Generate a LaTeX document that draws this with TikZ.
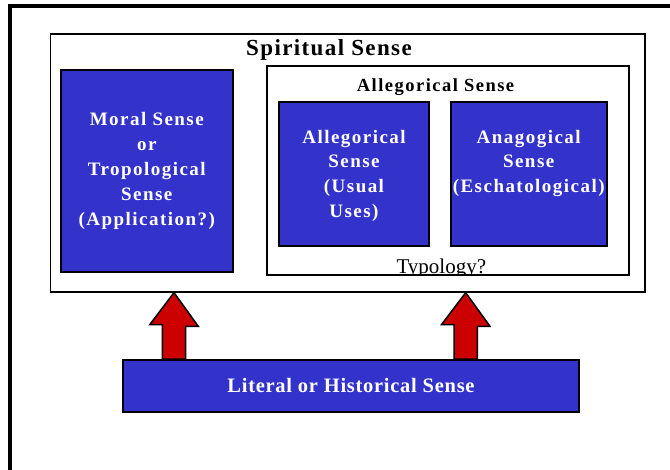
\documentclass[tikz,border=0pt]{standalone}
\usepackage{fontspec}
\setmainfont{Liberation Serif}
\usetikzlibrary{positioning}
\definecolor{sense_blue}{RGB}{51,51,204}
\definecolor{arrow_red}{RGB}{204,0,0}
\tikzset{
        boxnode/.style={align=center,inner sep=0pt},
        % Blue sense boxes
        node_sense/.style={boxnode, rectangle, draw=black, line width=2pt, fill=sense_blue, text=white, font=\bfseries\fontsize{19}{25}\selectfont\addfontfeature{LetterSpace=7.7}},
        % Text set inside a blue box
        node_sense_text/.style={boxnode, text=white, font=\bfseries\fontsize{19}{24.8}\selectfont\addfontfeature{LetterSpace=7.7}},
        % White frame boxes
        node_frame/.style={boxnode, rectangle, draw=black, line width=1.8pt, fill=white},
        % Frame titles
        node_title/.style={boxnode, anchor=base, font=\bfseries\fontsize{18.5}{22}\selectfont\addfontfeature{LetterSpace=8}},
        % Block arrows
        block_arrow/.style={draw=black, line width=1.5pt, fill=arrow_red, line join=miter}
}
\begin{document}
\begin{tikzpicture}[x=1pt, y=-1pt]
    \useasboundingbox (0,0) rectangle (670,470);
    \clip (0,0) rectangle (670,470);
    \draw[line width=3.5pt] (10,6) rectangle (700,500);
    % Spiritual frame
    \node[node_frame, minimum width=594.8pt, minimum height=257.7pt] (spiritual) at (347.9,162.9) {};
    \node[node_title, font=\bfseries\fontsize{23}{26}\selectfont\addfontfeature{LetterSpace=6}] (spiritual_title) at (329,56) {Spiritual Sense};
    \node[node_sense, minimum width=171.7pt, minimum height=202pt] (moral) at (146.8,171) {Moral Sense\\or\\Tropological\\Sense\\(Application?)};
    % Allegorical frame
    \node[node_frame, minimum width=362pt, minimum height=209.3pt] (allegorical) at (447.7,170.7) {};
    \node[node_title] (allegorical_title) at (435.5,92) {Allegorical Sense};
    \node[node_sense, minimum width=150pt, minimum height=143.4pt] (usual) at (354,174) {};
    \node[node_sense, minimum width=156pt, minimum height=143.4pt] (anagogical) at (528.7,174) {};
    \node[node_sense_text, below=28.5pt of usual.north] (usual_text) {Allegorical\\Sense\\(Usual\\Uses)};
    \node[node_sense_text, below=28.5pt of anagogical.north] (anagogical_text) {Anagogical\\Sense\\(Eschatological)};
    \begin{scope}
        \clip (allegorical.north west) rectangle ([yshift=1pt]allegorical.south east);
        \node[anchor=base, inner sep=0pt, font=\fontsize{21}{25}\selectfont] (typology) at (441.3,274) {Typology?};
    \end{scope}
    % Literal base
    \node[node_sense, minimum width=456.6pt, minimum height=51.7pt, font=\bfseries\fontsize{20.5}{24}\selectfont\addfontfeature{LetterSpace=3.5}] (literal) at (351,385.9) {Literal or Historical Sense};
    \coordinate (base_l) at ([xshift=52.3pt]literal.north west);
    \coordinate (base_r) at ([xshift=-114.6pt]literal.north east);
    \coordinate (tip_l) at (base_l |- spiritual.south);
    \coordinate (tip_r) at (base_r |- spiritual.south);
    \draw[block_arrow] (tip_l) -- ++(24.3,33.7) -- ++(-12.6,0) -- ([xshift=11.7pt]base_l) -- ([xshift=-11.7pt]base_l) -- ++(0,-34.3) -- ++(-12.6,0) -- cycle;
    \draw[block_arrow] (tip_r) -- ++(24.3,33.7) -- ++(-12.6,0) -- ([xshift=11.7pt]base_r) -- ([xshift=-11.7pt]base_r) -- ++(0,-34.3) -- ++(-12.6,0) -- cycle;
\end{tikzpicture}
\end{document}
